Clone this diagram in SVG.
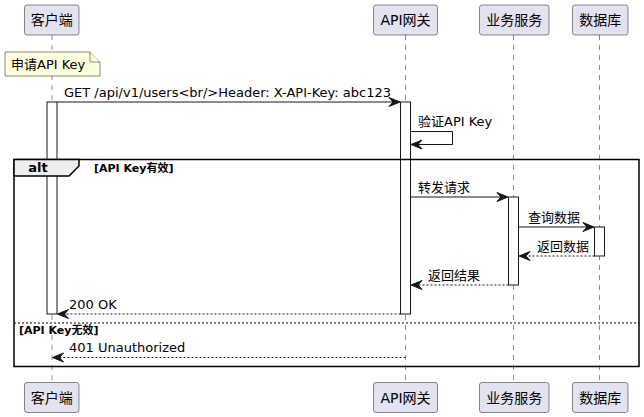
<svg xmlns="http://www.w3.org/2000/svg" width="644" height="417" viewBox="0 0 644 417">
<style>
.pbox{fill:#E2E2F0;stroke:#181818;stroke-width:0.5}
.ptxt{font-family:"DejaVu Sans","Noto Sans CJK SC",sans-serif;font-size:14px;fill:#000;text-anchor:middle}
.life{stroke:#181818;stroke-width:0.5;stroke-dasharray:5,5;fill:none}
.act{fill:#FFFFFF;stroke:#181818;stroke-width:1}
.msg{stroke:#181818;stroke-width:1;fill:none}
.ret{stroke:#181818;stroke-width:1;fill:none;stroke-dasharray:2,2}
.head{fill:#181818;stroke:#181818;stroke-width:1}
.mtxt{font-family:"DejaVu Sans","Noto Sans CJK SC",sans-serif;font-size:13px;fill:#000}
.gtxt{font-family:"DejaVu Sans","Noto Sans CJK SC",sans-serif;font-size:11px;font-weight:bold;fill:#000}
.note{fill:#FEFFDD;stroke:#181818;stroke-width:0.5}
</style>
<g id="lifelines">
<line class="life" x1="52" y1="35" x2="52" y2="382"/>
<line class="life" x1="405.5" y1="35" x2="405.5" y2="382"/>
<line class="life" x1="513.5" y1="35" x2="513.5" y2="382"/>
<line class="life" x1="599.5" y1="35" x2="599.5" y2="382"/>
</g>
<g id="p-client">
<rect class="pbox" x="24.5" y="5" width="54.5" height="30" rx="2.5"/>
<text class="ptxt" x="51.75" y="25">客户端</text>
<rect class="pbox" x="24.5" y="382.5" width="54.5" height="30" rx="2.5"/>
<text class="ptxt" x="51.75" y="402.5">客户端</text>
</g>
<g id="p-gateway">
<rect class="pbox" x="373.5" y="5" width="64" height="30" rx="2.5"/>
<text class="ptxt" x="405.5" y="25">API网关</text>
<rect class="pbox" x="373.5" y="382.5" width="64" height="30" rx="2.5"/>
<text class="ptxt" x="405.5" y="402.5">API网关</text>
</g>
<g id="p-service">
<rect class="pbox" x="479.5" y="5" width="69.5" height="30" rx="2.5"/>
<text class="ptxt" x="514.25" y="25">业务服务</text>
<rect class="pbox" x="479.5" y="382.5" width="69.5" height="30" rx="2.5"/>
<text class="ptxt" x="514.25" y="402.5">业务服务</text>
</g>
<g id="p-db">
<rect class="pbox" x="572.5" y="5" width="55.5" height="30" rx="2.5"/>
<text class="ptxt" x="600.25" y="25">数据库</text>
<rect class="pbox" x="572.5" y="382.5" width="55.5" height="30" rx="2.5"/>
<text class="ptxt" x="600.25" y="402.5">数据库</text>
</g>
<g id="activations">
<rect class="act" x="47" y="102" width="10" height="212"/>
<rect class="act" x="400.5" y="102" width="10" height="212"/>
<rect class="act" x="508.5" y="197" width="10" height="88"/>
<rect class="act" x="594.5" y="227" width="10" height="29"/>
</g>
<g id="note">
<path class="note" d="M5,52 L90,52 L100,62 L100,76 L5,76 Z"/>
<path class="note" d="M90,52 L90,62 L100,62" fill="none"/>
<text class="mtxt" x="11" y="69">申请API Key</text>
</g>
<g id="alt-frame">
<rect x="14" y="159.5" width="625" height="207" fill="none" stroke="#000" stroke-width="1.5"/>
<path d="M14,159.5 L79,159.5 L79,166 L69,176 L14,176 Z" fill="#EEEEEE" stroke="#000" stroke-width="1.5"/>
<text x="38" y="172" font-family="DejaVu Sans, Noto Sans CJK SC, sans-serif" font-size="13" font-weight="bold" text-anchor="middle">alt</text>
<text class="gtxt" x="94" y="171.5">[API Key有效]</text>
<line x1="14" y1="323" x2="639" y2="323" stroke="#000" stroke-width="1" stroke-dasharray="2,2"/>
<text class="gtxt" x="19" y="333.5">[API Key无效]</text>
</g>
<g id="connectors">
<line class="msg" x1="57" y1="102" x2="398.5" y2="102"/>
<polygon class="head" points="400,102 389,97.5 393,102 389,106.5"/>
<text class="mtxt" x="64" y="96.5">GET /api/v1/users&lt;br/&gt;Header: X-API-Key: abc123</text>

<polyline class="msg" points="410.5,131.5 452.5,131.5 452.5,144.5 412,144.5"/>
<polygon class="head" points="411,144.5 422,140 418,144.5 422,149"/>
<text class="mtxt" x="418" y="126">验证API Key</text>

<line class="msg" x1="410.5" y1="197" x2="506.5" y2="197"/>
<polygon class="head" points="508,197 497,192.5 501,197 497,201.5"/>
<text class="mtxt" x="418" y="191.5">转发请求</text>

<line class="msg" x1="518.5" y1="227" x2="592.5" y2="227"/>
<polygon class="head" points="594,227 583,222.5 587,227 583,231.5"/>
<text class="mtxt" x="528" y="221.5">查询数据</text>

<line class="ret" x1="594.5" y1="256" x2="520.5" y2="256"/>
<polygon class="head" points="519,256 530,251.5 526,256 530,260.5"/>
<text class="mtxt" x="537" y="250.5">返回数据</text>

<line class="ret" x1="508.5" y1="285" x2="412.5" y2="285"/>
<polygon class="head" points="411,285 422,280.5 418,285 422,289.5"/>
<text class="mtxt" x="428" y="279.5">返回结果</text>

<line class="ret" x1="400.5" y1="314" x2="59" y2="314"/>
<polygon class="head" points="57.5,314 68.5,309.5 64.5,314 68.5,318.5"/>
<text class="mtxt" x="69" y="308.5">200 OK</text>

<line class="ret" x1="405.5" y1="357.5" x2="54" y2="357.5"/>
<polygon class="head" points="52.5,357.5 63.5,353 59.5,357.5 63.5,362"/>
<text class="mtxt" x="69" y="352">401 Unauthorized</text>
</g>
</svg>
